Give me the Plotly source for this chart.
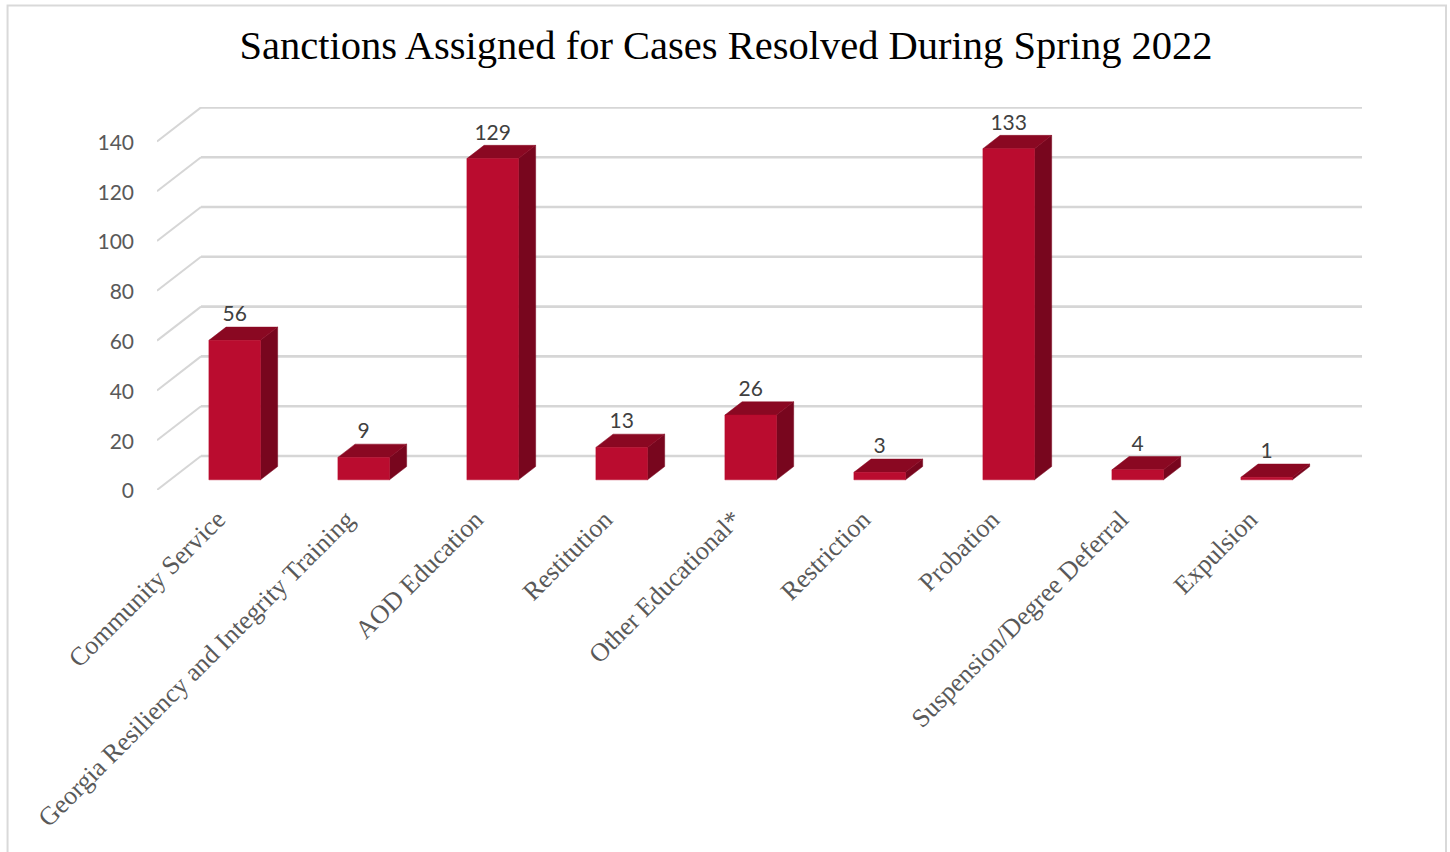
import plotly.graph_objects as go

categories = ["Community Service", "Georgia Resiliency and Integrity Training", "AOD Education",
              "Restitution", "Other Educational*", "Restriction", "Probation",
              "Suspension/Degree Deferral", "Expulsion"]
sanctions = [56, 9, 129, 13, 26, 3, 133, 4, 1]
y_ticks = [0, 20, 40, 60, 80, 100, 120, 140]
title_text = "Sanctions Assigned for Cases Resolved During Spring 2022"

W, H = 1450, 852
PLOT_L, PLOT_T, PLOT_B = 157, 107, 490
CAT_PX, VAL_PX = 129.05, 2.49
DEPTH_PX_X, DEPTH_PX_Y = 44.0, 34.0
plot_w = CAT_PX * 9 + DEPTH_PX_X
plot_h = PLOT_B - PLOT_T
dx_full = DEPTH_PX_X / CAT_PX      # oblique depth in category units
dy_full = DEPTH_PX_Y / VAL_PX      # oblique depth in value units
BAR_HALF = 0.2
D0, D1 = 0.30, 0.69                # bar front/back depth
TICK_SHIFT = -0.03

GRID = "#D6D6D6"
FRONT, TOP, SIDE = "#BA0C2F", "#8A0822", "#78061E"

fig = go.Figure()


def line(xs, ys, width):
    fig.add_trace(go.Scatter(x=xs, y=ys, mode="lines", cliponaxis=False, hoverinfo="skip",
                             line=dict(color=GRID, width=width), showlegend=False))


def face(xs, ys, color):
    fig.add_trace(go.Scatter(x=xs, y=ys, mode="lines", fill="toself", fillcolor=color,
                             cliponaxis=False, hoverinfo="skip",
                             line=dict(color=color, width=0.5), showlegend=False))


# walls: side diagonal + back gridline at each tick
for t in y_ticks:
    line([-0.5, -0.5 + dx_full], [t, t + dy_full], 2.0)
    line([-0.5 + dx_full, 8.51 + dx_full], [t + dy_full, t + dy_full], 2.6)

# bars drawn as three oblique faces computed from the values
for i, v in enumerate(sanctions):
    xl = i + D0 * dx_full - BAR_HALF
    xr = i + D0 * dx_full + BAR_HALF
    yb = D0 * dy_full
    ox = (D1 - D0) * dx_full
    oy = (D1 - D0) * dy_full
    face([xr, xr + ox, xr + ox, xr, xr], [yb, yb + oy, yb + oy + v, yb + v, yb], SIDE)
    face([xl, xl + ox, xr + ox, xr, xl], [yb + v, yb + v + oy, yb + v + oy, yb + v, yb + v], TOP)
    face([xl, xr, xr, xl, xl], [yb, yb, yb + v, yb + v, yb], FRONT)

# value labels
fig.add_trace(go.Scatter(
    x=[i + D0 * dx_full for i in range(len(sanctions))],
    y=[v + D1 * dy_full + 0.2 for v in sanctions],
    mode="text", text=[str(v) for v in sanctions], textposition="top center",
    cliponaxis=False, hoverinfo="skip", showlegend=False,
    textfont=dict(family="Lato", size=21, color="#404040"),
))

# chart frame (no bottom edge in the reference)
FX0, FY0, FX1 = 7.5, 5.5, 1446.5
fig.add_shape(type="path", xref="paper", yref="paper", layer="below",
              path=(f"M {(FX0 - PLOT_L) / plot_w} {(PLOT_B - H) / plot_h} "
                    f"L {(FX0 - PLOT_L) / plot_w} {(PLOT_B - FY0) / plot_h} "
                    f"L {(FX1 - PLOT_L) / plot_w} {(PLOT_B - FY0) / plot_h} "
                    f"L {(FX1 - PLOT_L) / plot_w} {(PLOT_B - H) / plot_h}"),
              line=dict(color="#D9D9D9", width=2))

fig.update_layout(
    width=W, height=H, autosize=False,
    margin=dict(l=PLOT_L, r=W - PLOT_L - plot_w, t=PLOT_T, b=H - PLOT_B, pad=0),
    paper_bgcolor="white", plot_bgcolor="rgba(0,0,0,0)",
    title=dict(text=title_text, x=726 / W, xanchor="center", y=1 - 45 / H, yanchor="middle",
               font=dict(family="Liberation Serif", size=40.5, color="#000000")),
    xaxis=dict(range=[-0.5, 8.5 + dx_full], tickmode="array",
               tickvals=[i + TICK_SHIFT for i in range(len(categories))],
               ticktext=categories, tickangle=-45, showgrid=False, zeroline=False, showline=False,
               ticks="", ticklabelstandoff=8,
               tickfont=dict(family="Liberation Serif", size=26, color="#595959")),
    yaxis=dict(range=[0, plot_h / VAL_PX], tickmode="array", tickvals=y_ticks,
               showgrid=False, zeroline=False, showline=False, ticks="", ticklabelstandoff=22,
               ticklabelshift=1,
               tickfont=dict(family="Lato", size=21, color="#595959")),
)

fig.write_html("out.html", config={"displayModeBar": False},
               post_script="document.body.style.margin='0';document.documentElement.style.overflow='hidden';")
